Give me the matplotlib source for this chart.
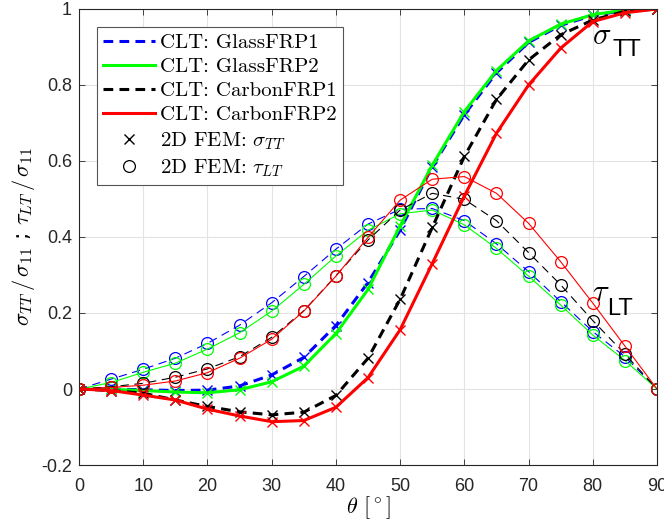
import numpy as np
import matplotlib
matplotlib.use('Agg')
import matplotlib.pyplot as plt
from matplotlib.lines import Line2D
from matplotlib.ticker import FixedLocator, FuncFormatter

plt.rcParams['mathtext.fontset'] = 'cm'
plt.rcParams['lines.scale_dashes'] = False

# fibre angle [deg]
theta = np.arange(0, 91, 5)

# sigma_TT / sigma_11
sig_glass1 = [0, 0.000, -0.002, -0.004, -0.003, 0.008, 0.037, 0.083, 0.167, 0.280, 0.418,
              0.585, 0.722, 0.832, 0.912, 0.957, 0.983, 0.996, 1.0]
sig_glass2 = [0, -0.001, -0.004, -0.008, -0.010, -0.002, 0.019, 0.060, 0.146, 0.262, 0.429,
              0.589, 0.730, 0.838, 0.916, 0.960, 0.985, 0.997, 1.0]
sig_carbon1 = [0, -0.004, -0.011, -0.029, -0.046, -0.060, -0.068, -0.061, -0.017, 0.081, 0.236,
               0.425, 0.612, 0.762, 0.866, 0.932, 0.971, 0.994, 1.0]
sig_carbon2 = [0, -0.004, -0.016, -0.029, -0.053, -0.071, -0.086, -0.083, -0.048, 0.030, 0.156,
               0.330, 0.508, 0.673, 0.800, 0.897, 0.967, 0.990, 1.0]

# tau_LT / sigma_11
tau_glass1 = [0, 0.026, 0.052, 0.081, 0.120, 0.168, 0.227, 0.296, 0.368, 0.434, 0.473,
              0.475, 0.443, 0.382, 0.309, 0.230, 0.151, 0.085, 0]
tau_glass2 = [0, 0.017, 0.044, 0.068, 0.105, 0.148, 0.205, 0.275, 0.350, 0.418, 0.461,
              0.471, 0.432, 0.370, 0.297, 0.221, 0.142, 0.075, 0]
tau_carbon1 = [0, 0.006, 0.015, 0.031, 0.053, 0.085, 0.136, 0.206, 0.298, 0.392, 0.471,
               0.515, 0.499, 0.443, 0.359, 0.274, 0.180, 0.092, 0]
tau_carbon2 = [0, 0.004, 0.010, 0.021, 0.043, 0.081, 0.131, 0.205, 0.297, 0.399, 0.497,
               0.552, 0.559, 0.515, 0.436, 0.335, 0.226, 0.113, 0]

labels = ['CLT: GlassFRP1', 'CLT: GlassFRP2', 'CLT: CarbonFRP1', 'CLT: CarbonFRP2']
colors = ['#0000ff', '#00ff00', 'k', '#ff0000']
dashed = [True, False, True, False]
sig_all = [sig_glass1, sig_glass2, sig_carbon1, sig_carbon2]
tau_all = [tau_glass1, tau_glass2, tau_carbon1, tau_carbon2]

fig = plt.figure(figsize=(6.64, 5.28), dpi=100)
ax = fig.add_axes([0.119, 0.1193, 0.8705, 0.8637])

handles = []
for sig, tau, c, d, lab in zip(sig_all, tau_all, colors, dashed, labels):
    # CLT
    h, = ax.plot(theta, sig, color=c, lw=2.2, label=lab)
    t, = ax.plot(theta, tau, color=c, lw=0.8)
    if d:
        h.set_dashes((7, 4.5))
        t.set_dashes((6, 4))
    handles.append(h)
    # 2D FEM
    ax.plot(theta, sig, 'x', color=c, ms=7, mew=1.0)
    ax.plot(theta, tau, 'o', color=c, ms=8.5, mfc='none', mew=0.9)

handles.append(Line2D([], [], ls='none', marker='x', color='k', ms=7, mew=1.0))
handles.append(Line2D([], [], ls='none', marker='o', color='k', ms=8.5, mfc='none', mew=0.9))
labels = labels + [r'2D FEM: $\sigma_{TT}$', r'2D FEM: $\tau_{LT}$']

ax.text(79.8, 0.93, r'$\sigma$', fontsize=22, ha='left', va='center')
ax.text(83.0, 0.876, 'TT', fontsize=17, family='Liberation Sans', ha='left', va='baseline')
ax.text(79.8, 0.255, r'$\tau$', fontsize=22, ha='left', va='center')
ax.text(82.2, 0.195, 'LT', fontsize=17, family='Liberation Sans', ha='left', va='baseline')

ax.set_xlim(0, 90)
ax.set_ylim(-0.2, 1)
ax.xaxis.set_major_locator(FixedLocator(np.arange(0, 91, 10)))
ax.yaxis.set_major_locator(FixedLocator([-0.2, 0, 0.2, 0.4, 0.6, 0.8, 1.0]))
ax.yaxis.set_major_formatter(FuncFormatter(lambda v, p: '%g' % round(v, 2) if abs(v) > 1e-9 else '0'))
ax.grid(True, color='#e3e3e3', lw=0.8)
ax.set_axisbelow(True)
ax.tick_params(direction='in', top=True, right=True, length=4, width=0.6, color='#262626',
               labelcolor='#262626', labelsize=13)
ax.tick_params(axis='x', pad=9)
ax.tick_params(axis='y', pad=5)
for lab in ax.get_xticklabels() + ax.get_yticklabels():
    lab.set_family('Liberation Sans')
for s in ax.spines.values():
    s.set_color('#262626')
    s.set_linewidth(0.8)

ax.set_xlabel(r'$\theta$ $[^\circ]$', fontsize=16, labelpad=0)
ax.set_ylabel(r'$\sigma_{TT}\,/\,\sigma_{11}$ ; $\tau_{LT}\,/\,\sigma_{11}$', fontsize=16, labelpad=3)

leg = ax.legend(handles, labels, loc='upper left', bbox_to_anchor=(0.031, 0.9605),
                borderaxespad=0, fancybox=False, framealpha=1, edgecolor='#555555',
                prop={'family': 'cmr10', 'size': 15}, handlelength=2.5,
                handletextpad=0.25, labelspacing=0.27, borderpad=0.3)
leg.get_frame().set_linewidth(0.8)

fig.savefig('out.png', dpi=100)
